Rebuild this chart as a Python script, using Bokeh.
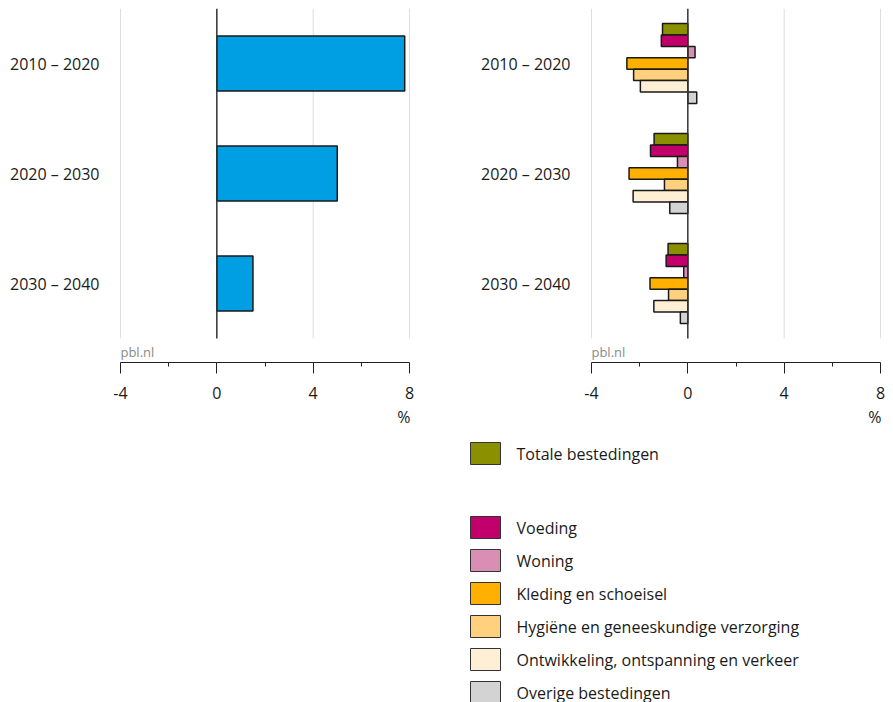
from bokeh.plotting import figure
from bokeh.models import Range1d, FixedTicker, Title
from bokeh.layouts import column, row
from bokeh.core.properties import value
from bokeh.embed import file_html
from bokeh.resources import INLINE

# ---------------- data ----------------
periods = ["2010 – 2020", "2020 – 2030", "2030 – 2040"]
total_growth = [7.8, 5.0, 1.5]

series_names = [
    "Totale bestedingen",
    "Voeding",
    "Woning",
    "Kleding en schoeisel",
    "Hygiëne en geneeskundige verzorging",
    "Ontwikkeling, ontspanning en verkeer",
    "Overige bestedingen",
]
totale = [-1.05, -1.4, -0.82]
voeding = [-1.1, -1.55, -0.9]
woning = [0.3, -0.43, -0.17]
kleding = [-2.53, -2.44, -1.57]
hygiene = [-2.25, -0.97, -0.8]
ontwikkeling = [-1.97, -2.27, -1.41]
overige = [0.37, -0.75, -0.31]
series_values = [totale, voeding, woning, kleding, hygiene, ontwikkeling, overige]

x_ticks = [-4, 0, 4, 8]
x_minor_ticks = [-2, 2, 6]
grid_values = [-4, 4, 8]

# ---------------- style ----------------
FONT = "Open Sans"
BLUE = "#009FE3"
series_colors = ["#8A9000", "#C2006B", "#D88FB3", "#FFB000", "#FFD17F", "#FFEFD5", "#D3D3D3"]
OUTLINE = "#1a1a1a"
TEXT = "#1a1a1a"

n = len(periods)
slot_px = 110.0
axis_gap_px = 24.0
frame_h = int(n * slot_px + axis_gap_px)  # 354
y_top = n - 0.5
y_bottom = -0.5 - axis_gap_px / slot_px
ypos = [n - 1 - i for i in range(n)]
TOP = 8
BOTTOM = 70


def make_panel(width, border_left, border_right):
    p = figure(
        width=width, height=TOP + frame_h + BOTTOM,
        x_range=Range1d(-4.04, 8.04), y_range=Range1d(y_bottom, y_top),
        output_backend="svg", toolbar_location=None, title=None,
        min_border_left=border_left, min_border_right=border_right,
        min_border_top=TOP, min_border_bottom=BOTTOM,
    )
    p.outline_line_color = None
    p.xgrid.visible = False
    p.ygrid.visible = False

    # grid lines ending at the last category edge
    p.segment(x0=grid_values, y0=[-0.5] * len(grid_values), x1=grid_values,
              y1=[y_top] * len(grid_values), line_color="#dddddd", line_width=1)

    # x axis
    xa = p.xaxis[0]
    xa.ticker = FixedTicker(ticks=x_ticks, minor_ticks=x_minor_ticks)
    xa.bounds = (min(x_ticks), max(x_ticks))
    xa.major_label_overrides = {t: str(t) for t in x_ticks}
    xa.axis_line_color = "#222222"
    xa.axis_line_width = 1
    xa.major_tick_line_color = "#222222"
    xa.minor_tick_line_color = "#222222"
    xa.major_tick_out = 11
    xa.major_tick_in = 0
    xa.minor_tick_out = 4
    xa.minor_tick_in = 0
    xa.major_label_standoff = 13
    xa.major_label_text_font = FONT
    xa.major_label_text_font_size = "16px"
    xa.major_label_text_color = TEXT

    # y axis
    ya = p.yaxis[0]
    ya.ticker = FixedTicker(ticks=ypos)
    ya.major_label_overrides = {ypos[i]: periods[i] for i in range(n)}
    ya.axis_line_color = None
    ya.major_tick_line_color = None
    ya.minor_tick_line_color = None
    ya.major_tick_out = 0
    ya.major_tick_in = 0
    ya.major_label_standoff = 20
    ya.major_label_text_font = FONT
    ya.major_label_text_font_size = "16px"
    ya.major_label_text_color = TEXT

    p.add_layout(Title(text="%", align="right", text_font=FONT, text_font_size="16px",
                       text_font_style="normal", text_color=TEXT, standoff=4), "below")

    p.text(x=[-4], y=[-0.5 - 13 / slot_px], text=["pbl.nl"], text_font=value(FONT),
           text_font_size=value("13px"), text_color="#8a8a8a", text_baseline="middle",
           text_align="left")
    return p


# ---------------- left panel ----------------
p1 = make_panel(468, 119, 58)
p1.hbar(y=ypos, left=0, right=total_growth, height=0.5, fill_color=BLUE,
        line_color=OUTLINE, line_width=1.5)
p1.segment(x0=[0], y0=[-0.5], x1=[0], y1=[y_top], line_color="#333333", line_width=1.5)

# ---------------- right panel ----------------
p2 = make_panel(417, 122, 4)
bar_h = 11.4 / slot_px
k = len(series_values)
for j, vals in enumerate(series_values):
    offs = ((k - 1) / 2 - j) * bar_h
    p2.hbar(y=[y + offs for y in ypos], left=0, right=vals, height=bar_h,
            fill_color=series_colors[j], line_color=OUTLINE, line_width=1.5)
p2.segment(x0=[0], y0=[-0.5], x1=[0], y1=[y_top], line_color="#333333", line_width=1.5)

# ---------------- legend ----------------
leg_w, leg_h = 885, 270
pl = figure(width=leg_w, height=leg_h, x_range=Range1d(0, leg_w), y_range=Range1d(leg_h, 0),
            output_backend="svg", toolbar_location=None, title=None,
            x_axis_type=None, y_axis_type=None,
            min_border_left=0, min_border_right=0, min_border_top=0, min_border_bottom=0)
pl.outline_line_color = None
row_idx = [0] + [i + 1 for i in range(1, len(series_names))]
leg_y = [21 + 33 * r + (8 if r > 0 else 0) for r in row_idx]
pl.rect(x=[485] * len(series_names), y=leg_y, width=30, height=22,
        fill_color=series_colors, line_color="#333333", line_width=1)
pl.text(x=[516] * len(series_names), y=leg_y, text=series_names, text_font=value(FONT),
        text_font_size=value("16px"), text_color=TEXT, text_baseline="middle", text_align="left")

layout = column(row(p1, p2), pl)
open("out.html", "w").write(file_html(layout, INLINE))
